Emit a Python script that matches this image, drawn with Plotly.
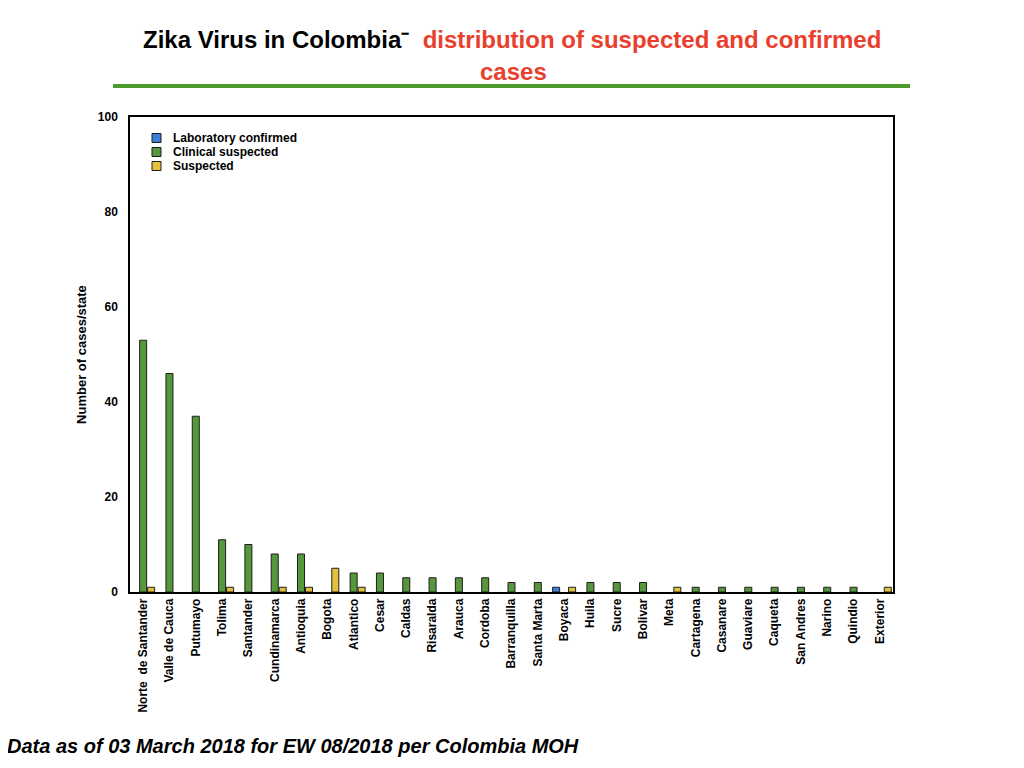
import plotly.graph_objects as go

states = ["Norte  de Santander", "Valle de Cauca", "Putumayo", "Tolima", "Santander",
          "Cundinamarca", "Antioquia", "Bogota", "Atlantico", "Cesar", "Caldas",
          "Risaralda", "Arauca", "Cordoba", "Barranquilla", "Santa Marta", "Boyaca",
          "Huila", "Sucre", "Bolivar", "Meta", "Cartagena", "Casanare", "Guaviare",
          "Caqueta", "San Andres", "Narino", "Quindio", "Exterior"]
lab_confirmed = [None, None, None, None, None, None, None, None, None, None, None, None,
                 None, None, None, None, 1, None, None, None, None, None, None, None,
                 None, None, None, None, None]
clinical_suspected = [53, 46, 37, 11, 10, 8, 8, None, 4, 4, 3, 3, 3, 3, 2, 2, None,
                      2, 2, 2, None, 1, 1, 1, 1, 1, 1, 1, None]
suspected = [1, None, None, 1, None, 1, 1, 5, 1, None, None, None, None, None, None, None, 1,
             None, None, None, 1, None, None, None, None, None, None, None, 1]
y_ticks = [0, 20, 40, 60, 80, 100]
series_names = ["Laboratory confirmed", "Clinical suspected", "Suspected"]
series_colors = ["#3b7fd6", "#55983c", "#e3c23a"]

FONT = "Liberation Sans, Arial, sans-serif"
outline = dict(color="#1e1e1e", width=1)

# page offset of the plot div (body margin)
OFF = 8
W, H = 1024 - OFF, 768 - OFF
L, R, T, B = 130 - OFF, 893 - OFF, 117 - OFF, 592 - OFF

def px(x):
    return (x - OFF - L) / (R - L)
def py(y):
    return (B - (y - OFF)) / (B - T)

fig = go.Figure()
for name, vals, col in zip(series_names, [lab_confirmed, clinical_suspected, suspected], series_colors):
    fig.add_trace(go.Bar(name=name, x=states, y=vals,
                         marker=dict(color=col, line=outline)))

shapes = [dict(type="line", xref="paper", yref="paper",
               x0=px(113), x1=px(910), y0=py(86), y1=py(86),
               line=dict(color="#4a9a2c", width=4))]
annotations = [
    dict(text="<b>Zika Virus in Colombia⁻  <span style='color:#e8402c'>distribution of suspected and confirmed</span></b>",
         xref="paper", yref="paper", x=px(512), y=py(40), xanchor="center", yanchor="middle",
         showarrow=False, font=dict(size=24, family=FONT, color="black")),
    dict(text="<b>cases</b>",
         xref="paper", yref="paper", x=px(514), y=py(72), xanchor="center", yanchor="middle",
         showarrow=False, font=dict(size=24, family=FONT, color="#e8402c")),
    dict(text="<b><i>Data as of 03 March 2018 for EW 08/2018 per Colombia MOH</i></b>",
         xref="paper", yref="paper", x=px(5), y=py(746), xanchor="left", yanchor="middle",
         showarrow=False, font=dict(size=20, family=FONT, color="black")),
]
# legend
for i, (name, col) in enumerate(zip(series_names, series_colors)):
    yc = 138 + 14 * i
    shapes.append(dict(type="rect", xref="paper", yref="paper",
                       x0=px(152), x1=px(161), y0=py(yc - 4.5), y1=py(yc + 4.5),
                       fillcolor=col, line=dict(color="#1e1e1e", width=1)))
    annotations.append(dict(text="<b>" + name + "</b>", xref="paper", yref="paper",
                            x=px(171), y=py(yc), xanchor="left", yanchor="middle",
                            showarrow=False, font=dict(size=12, family=FONT, color="black")))

fig.update_layout(
    width=W, height=H,
    margin=dict(l=L, r=W - R, t=T, b=H - B, autoexpand=False),
    paper_bgcolor="white", plot_bgcolor="white",
    barmode="group", bargap=0.09, bargroupgap=0.12,
    font=dict(family=FONT, color="black"),
    showlegend=False,
    xaxis=dict(tickangle=-90, tickfont=dict(size=12, weight="bold"),
               showline=True, linecolor="black", linewidth=1.5, mirror=True,
               ticks="", showgrid=False),
    yaxis=dict(range=[0, 100], tickvals=y_ticks, tickfont=dict(size=12, weight="bold"),
               showline=True, linecolor="black", linewidth=1.5, mirror=True,
               ticks="", showgrid=False, zeroline=False, ticklabelstandoff=8,
               title=dict(text="Number of cases/state", font=dict(size=13, weight="bold"),
                          standoff=8)),
    shapes=shapes,
    annotations=annotations,
)

fig.write_html("out.html")
